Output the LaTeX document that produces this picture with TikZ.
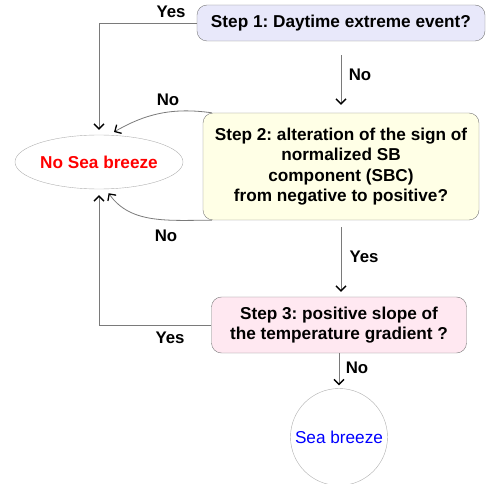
\documentclass[tikz,border=0pt]{standalone}
\usepackage{fontspec}
\setmainfont{Liberation Sans}
\usetikzlibrary{shapes.geometric, arrows.meta}

\definecolor{stepblue}{HTML}{E8E8FA}
\definecolor{stepyellow}{HTML}{FFFFE6}
\definecolor{steppink}{HTML}{FFE8F1}
\definecolor{linegray}{HTML}{7A7A7A}

\begin{document}
\frenchspacing
\begin{tikzpicture}[x=1pt, y=-1pt,
        every node/.style={font=\fontsize{17.2}{20.5}\selectfont},
        stepbox/.style={draw=linegray, rounded corners=10pt, align=center, inner sep=0pt, font=\fontsize{17.2}{20.5}\selectfont\bfseries},
        link/.style={draw=linegray, line width=0.8pt, -{Straight Barb[length=5pt, width=10pt, line width=1.3pt, color=black]}},
        lbl/.style={font=\fontsize{16.8}{20}\selectfont\bfseries}]
        \useasboundingbox (0, 0) rectangle (488, 484);

        % Nodes
        \node[stepbox, fill=stepblue, minimum width=288pt, minimum height=36pt] at (341, 23)  (step1)  {Step 1: Daytime extreme event?};
        \node[stepbox, fill=stepyellow, minimum width=276pt, minimum height=107pt] at (341, 166.5)  (step2)  {Step 2: alteration of the sign of\\normalized SB\\component (SBC)\\from negative to positive?};
        \node[stepbox, fill=steppink, minimum width=255pt, minimum height=56pt] at (339, 325)  (step3)  {Step 3: positive slope of\\the temperature gradient ?};
        \node[ellipse, draw=linegray!60, minimum width=168pt, minimum height=54pt, inner sep=0pt, text=red, font=\fontsize{17.2}{20}\selectfont\bfseries] at (99, 162)  (nosb)  {No Sea breeze};
        \node[circle, draw=linegray!60, minimum size=97pt, inner sep=0pt, text=blue] at (339, 437)  (sb)  {Sea breeze};

        % Connectors
        \draw[link, shorten <=14pt, shorten >=8pt]  (step1.south -| step2.north) -- (step2.north);
        \draw[link, shorten <=7pt, shorten >=5pt]  (step2.south) -- (step2.south |- step3.north);
        \draw[link, shorten >=3pt]  (step3.south -| sb.north) -- (sb.north);
        \draw[link, shorten >=5pt]  (step1.west) -| (nosb.north);
        \draw[link, shorten >=6pt]  (step3.west) -| (nosb.south);
        \draw[link, shorten >=6pt]  ([xshift=9pt]step2.north west) to[out=172, in=30] (nosb.70);
        \draw[link, shorten >=5pt]  ([xshift=9pt]step2.south west) to[out=180, in=-55] (nosb.-76);

        % Labels
        \node[lbl] at (171, 12)  (yes1)  {Yes};
        \node[lbl] at (360, 75)  (no1)   {No};
        \node[lbl] at (168, 100) (no2)   {No};
        \node[lbl] at (166, 236) (no3)   {No};
        \node[lbl] at (364, 257) (yes2)  {Yes};
        \node[lbl] at (170, 338) (yes3)  {Yes};
        \node[lbl] at (357, 368) (no4)   {No};

    \end{tikzpicture}
\end{document}
